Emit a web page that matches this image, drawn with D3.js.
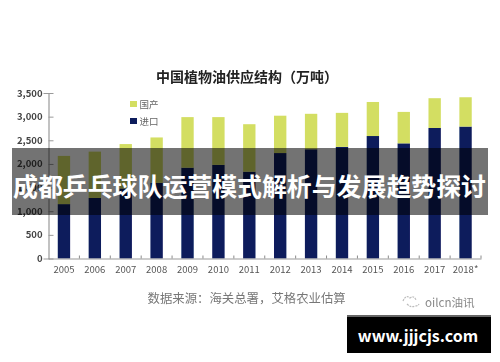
<!DOCTYPE html>
<html>
<head>
<meta charset="utf-8">
<script src="https://cdn.jsdelivr.net/npm/d3@7"></script>
<style>
  html, body { margin: 0; padding: 0; background: #fff; }
  svg { display: block; }
  text { font-family: "Noto Sans CJK SC", "Noto Sans", sans-serif; }
</style>
</head>
<body>
<div id="chart-area"></div>
<script>
var years = ["2005", "2006", "2007", "2008", "2009", "2010", "2011", "2012", "2013", "2014", "2015", "2016", "2017", "2018*"];
var imports = [1150, 1280, 1480, 1600, 1920, 1980, 1835, 2230, 2310, 2360, 2590, 2435, 2760, 2790];
var domestic = [1020, 980, 940, 960, 1070, 1010, 1005, 790, 750, 720, 720, 665, 630, 620];
var yTicks = [0, 500, 1000, 1500, 2000, 2500, 3000, 3500];
var seriesNames = ["进口", "国产"];
var seriesColors = ["#0a1a5c", "#d3de62"];

var outerWidth = 500;
var outerHeight = 362;

var margin = {
  left: 48.5,
  right: 19,
  top: 93,
  bottom: 103.5
};

var width = outerWidth - margin.left - margin.right;
var height = outerHeight - margin.top - margin.bottom;

var svg = d3.select("#chart-area")
  .append("svg")
  .attr("width", outerWidth)
  .attr("height", outerHeight);

// the reference is a soft, upscaled photo
var blur = svg.append("defs").append("filter")
  .attr("id", "soft");
blur.append("feGaussianBlur").attr("stdDeviation", 0.5);

var chart = svg.append("g").attr("filter", "url(#soft)");

var g = chart.append("g")
  .attr("transform", "translate(" + margin.left + "," + margin.top + ")");

var rows = years.map(function(d, i) {
  return { year: d, "进口": imports[i], "国产": domestic[i] };
});

var stacked = d3.stack().keys(seriesNames)(rows);

// X scale
var x = d3.scaleBand()
  .domain(years)
  .range([0, width])
  .paddingInner(0.6)
  .paddingOuter(0.3);

// Y scale
var y = d3.scaleLinear()
  .domain([0, 3500])
  .range([height, 0]);

// Bars
g.selectAll("g.series")
  .data(stacked)
  .enter()
  .append("g")
  .attr("class", "series")
  .attr("fill", function(d, i) { return seriesColors[i]; })
  .selectAll("rect")
  .data(function(d) { return d; })
  .enter()
  .append("rect")
  .attr("x", function(d) { return x(d.data.year); })
  .attr("y", function(d) { return y(d[1]); })
  .attr("width", x.bandwidth())
  .attr("height", function(d) { return y(d[0]) - y(d[1]); });

// Bottom axis
var xAxis = d3.axisBottom(x).tickSize(0).tickPadding(8);

var xG = g.append("g")
  .attr("transform", "translate(0," + height + ")")
  .call(xAxis);

xG.select(".domain").attr("stroke", "#9a9a9a").attr("stroke-width", 1.2);
xG.selectAll("text")
  .attr("font-size", "9.5px")
  .attr("fill", "#555");

// small ticks between the bars
xG.selectAll("line.sep")
  .data(years)
  .enter()
  .append("line")
  .attr("class", "sep")
  .attr("x1", function(d) { return x(d) + x.bandwidth() / 2 + x.step() / 2; })
  .attr("x2", function(d) { return x(d) + x.bandwidth() / 2 + x.step() / 2; })
  .attr("y1", 0)
  .attr("y2", -3)
  .attr("stroke", "#8a8a8a");

// Left axis
var yAxis = d3.axisLeft(y)
  .tickValues(yTicks)
  .tickSize(5)
  .tickPadding(1)
  .tickFormat(d3.format(","));

var yG = g.append("g").call(yAxis);

yG.select(".domain").attr("stroke", "#9a9a9a").attr("stroke-width", 1.2);
yG.selectAll(".tick line")
  .attr("x1", 0)
  .attr("x2", 5)
  .attr("stroke", "#9a9a9a");
yG.selectAll("text")
  .attr("font-size", "9.5px")
  .attr("font-weight", "700")
  .attr("fill", "#444");

// Title
chart.append("text")
  .attr("x", 247)
  .attr("y", 82)
  .attr("text-anchor", "middle")
  .attr("font-size", "14px")
  .attr("font-weight", "700")
  .attr("fill", "#222")
  .text("中国植物油供应结构（万吨）");

// Legend
var legendRows = [
  { label: "国产", color: seriesColors[1], y: 104 },
  { label: "进口", color: seriesColors[0], y: 121 }
];

var legend = chart.selectAll("g.legend")
  .data(legendRows)
  .enter()
  .append("g")
  .attr("class", "legend")
  .attr("transform", function(d) { return "translate(130," + d.y + ")"; });

legend.append("rect")
  .attr("y", -3)
  .attr("width", 7)
  .attr("height", 6)
  .attr("fill", function(d) { return d.color; });

legend.append("text")
  .attr("x", 9.5)
  .attr("y", 3.5)
  .attr("font-size", "9.5px")
  .attr("fill", "#666")
  .text(function(d) { return d.label; });

// Source + watermark
chart.append("text")
  .attr("x", 147.5)
  .attr("y", 302.5)
  .attr("font-size", "12.4px")
  .attr("fill", "#777")
  .text("数据来源：海关总署，艾格农业估算");

chart.append("text")
  .attr("x", 425)
  .attr("y", 307)
  .attr("font-size", "11.6px")
  .attr("fill", "#888")
  .text("oilcn油讯");

chart.append("path")
  .attr("d", "M403 301 q3 -7 7 -3 q4 -3 6 2 M407 304 q4 4 8 2 q3 0 4 -2")
  .attr("fill", "none")
  .attr("stroke", "#bbb")
  .attr("stroke-width", 1.2)
  .attr("stroke-dasharray", "2 1");

// Banner over the chart
svg.append("rect")
  .attr("x", 12)
  .attr("y", 148)
  .attr("width", 476)
  .attr("height", 67)
  .attr("fill", "#000")
  .attr("opacity", 0.55);

svg.append("text")
  .attr("x", 249.5)
  .attr("y", 196)
  .attr("text-anchor", "middle")
  .attr("font-size", "24.9px")
  .attr("font-weight", "700")
  .attr("fill", "#fff")
  .text("成都乒乓球队运营模式解析与发展趋势探讨");

// Site stamp
svg.append("rect")
  .attr("x", 347)
  .attr("y", 315)
  .attr("width", 144)
  .attr("height", 38)
  .attr("fill", "#000");

svg.append("rect")
  .attr("x", 347)
  .attr("y", 315)
  .attr("width", 144)
  .attr("height", 2)
  .attr("fill", "#666");

svg.append("text")
  .attr("x", 418)
  .attr("y", 342)
  .attr("text-anchor", "middle")
  .attr("font-family", "Open Sans, sans-serif")
  .attr("font-size", "16px")
  .attr("font-weight", "700")
  .attr("fill", "#fff")
  .text("www.jjjcjs.com");
</script>
</body>
</html>
